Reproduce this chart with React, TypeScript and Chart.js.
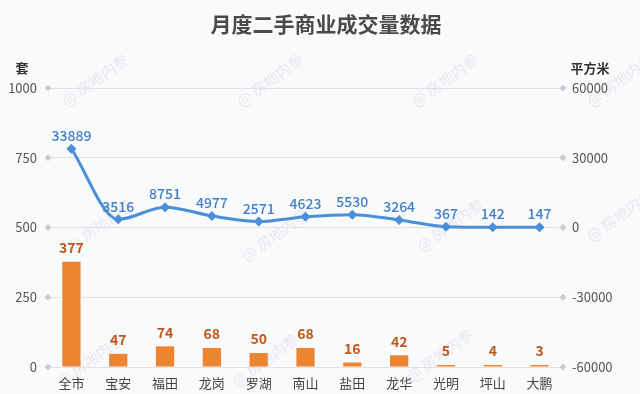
import React, { useEffect, useRef } from "react";
import { Chart, registerables } from "chart.js";
Chart.register(...registerables);

const categories = ["全市", "宝安", "福田", "龙岗", "罗湖", "南山", "盐田", "龙华", "光明", "坪山", "大鹏"];
const unitsSold = [377, 47, 74, 68, 50, 68, 16, 42, 5, 4, 3];
const areaSold = [33889, 3516, 8751, 4977, 2571, 4623, 5530, 3264, 367, 142, 147];
const leftTicks = [0, 250, 500, 750, 1000];
const rightTicks = [-60000, -30000, 0, 30000, 60000];
const chartTitle = "月度二手商业成交量数据";
const leftAxisTitle = "套";
const rightAxisTitle = "平方米";
const watermark = "@ 房地内参";

const FONT = '"Noto Sans CJK SC", "Noto Sans", sans-serif';

export default function App() {
  const ref = useRef<HTMLCanvasElement | null>(null);
  useEffect(() => {
    document.body.style.margin = "0";
    const canvas = ref.current!;
    const decor = {
      id: "decor",
      beforeDraw(chart: any) {
        const c = chart.ctx;
        c.save();
        c.fillStyle = "#f9fafc";
        c.fillRect(0, 0, chart.width, chart.height);
        c.fillStyle = "rgba(200,204,212,0.4)";
        c.font = `15px ${FONT}`;
        c.textAlign = "center";
        c.textBaseline = "middle";
        const spots = [
          [95, 80], [270, 80], [445, 80], [620, 80],
          [100, 225], [275, 235], [450, 225], [620, 215],
          [90, 360], [265, 360], [440, 355],
        ];
        spots.forEach(([x, y]) => {
          c.save();
          c.translate(x, y);
          c.rotate(-Math.PI / 5);
          c.fillText(watermark, 0, 0);
          c.restore();
        });
        c.restore();
      },
      afterDraw(chart: any) {
        const c = chart.ctx;
        const area = chart.chartArea;
        const y = chart.scales.y;
        c.save();
        c.fillStyle = "#c8ccd2";
        leftTicks.forEach((t) => {
          const py = y.getPixelForValue(t);
          [area.left, area.right].forEach((px) => {
            c.beginPath();
            c.moveTo(px, py - 3.5);
            c.lineTo(px + 3.5, py);
            c.lineTo(px, py + 3.5);
            c.lineTo(px - 3.5, py);
            c.closePath();
            c.fill();
          });
        });
        c.fillStyle = "#4a4a4a";
        c.font = `bold 21px ${FONT}`;
        c.textAlign = "center";
        c.textBaseline = "middle";
        c.fillText(chartTitle, 326, 24);
        c.font = `bold 13px ${FONT}`;
        c.fillStyle = "#333";
        c.fillText(leftAxisTitle, 22, 68);
        c.fillText(rightAxisTitle, 590, 68);
        c.restore();
      },
      afterDatasetsDraw(chart: any) {
        const c = chart.ctx;
        c.save();
        c.textAlign = "center";
        c.textBaseline = "middle";
        const barMeta = chart.getDatasetMeta(0);
        c.font = `bold 14px ${FONT}`;
        c.fillStyle = "#c0581c";
        barMeta.data.forEach((el: any, i: number) => {
          c.fillText(String(unitsSold[i]), el.x, el.y - 14);
        });
        const lineMeta = chart.getDatasetMeta(1);
        c.font = `500 14px ${FONT}`;
        c.fillStyle = "#3f7fc6";
        lineMeta.data.forEach((el: any, i: number) => {
          c.fillText(String(areaSold[i]), el.x, el.y - 13);
        });
        c.restore();
      },
    };
    const chart = new Chart(canvas, {
      data: {
        labels: categories,
        datasets: [
          {
            type: "bar",
            label: leftAxisTitle,
            data: unitsSold,
            yAxisID: "y",
            backgroundColor: "#ec8430",
            barPercentage: 0.39,
            categoryPercentage: 1,
            minBarLength: 2,
            order: 2,
          },
          {
            type: "line",
            label: rightAxisTitle,
            data: areaSold,
            yAxisID: "y1",
            borderColor: "#4a8fd8",
            backgroundColor: "#4a8fd8",
            borderWidth: 3,
            cubicInterpolationMode: "monotone",
            pointStyle: "rectRot",
            pointRadius: 5,
            pointBorderWidth: 0,
            order: 1,
          },
        ],
      } as any,
      options: {
        responsive: false,
        animation: false,
        layout: { padding: { top: 88, left: 0, right: 0, bottom: 0 } },
        plugins: { legend: { display: false }, tooltip: { enabled: false } },
        scales: {
          x: {
            grid: { display: false, drawTicks: false },
            border: { display: false },
            ticks: { color: "#444", font: { size: 13, family: FONT }, padding: 8 },
            afterFit: (s: any) => { s.height = 27; },
          },
          y: {
            position: "left",
            min: 0,
            max: 1000,
            afterBuildTicks: (s: any) => { s.ticks = leftTicks.map((v) => ({ value: v })); },
            grid: { color: "#dfe2e7", drawTicks: false, lineWidth: 1 },
            border: { display: false },
            ticks: { color: "#555", font: { size: 13, family: FONT }, padding: 11, callback: (v: any) => String(v) },
            afterFit: (s: any) => { s.width = 48; },
          },
          y1: {
            position: "right",
            min: -60000,
            max: 60000,
            afterBuildTicks: (s: any) => { s.ticks = rightTicks.map((v) => ({ value: v })); },
            grid: { display: false, drawTicks: false },
            border: { display: false },
            ticks: { color: "#555", font: { size: 13, family: FONT }, padding: 9, callback: (v: any) => String(v) },
            afterFit: (s: any) => { s.width = 77; },
          },
        },
      } as any,
      plugins: [decor],
    });
    return () => chart.destroy();
  }, []);
  return (
    <div style={{ width: 640, height: 394 }}>
      <canvas ref={ref} width={640} height={394} style={{ display: "block" }} />
    </div>
  );
}
